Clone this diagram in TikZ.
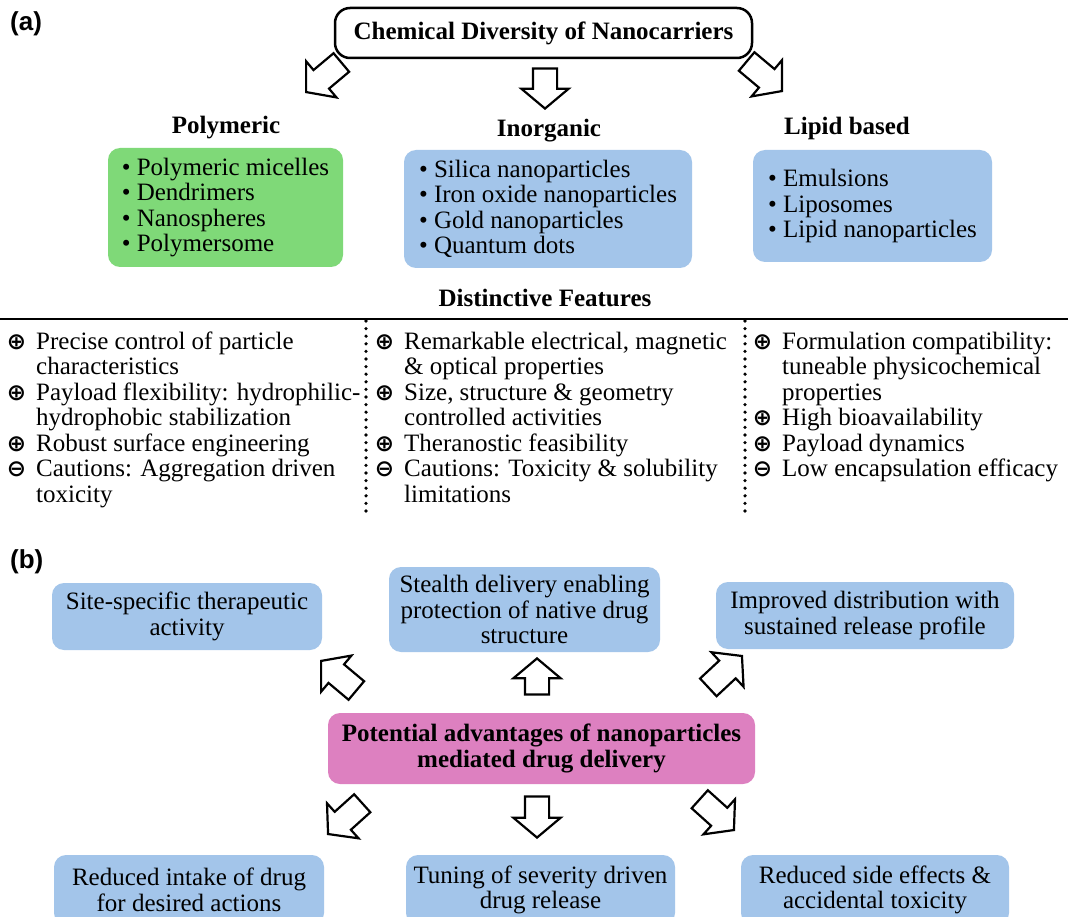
\documentclass[tikz,border=0pt]{standalone}
\usepackage{fontspec}
\setmainfont{Liberation Serif}
\newfontfamily\labelfont{Liberation Sans}
\newfontfamily\symfont{DejaVu Sans}
\usetikzlibrary{shapes.arrows}
\definecolor{boxgreen}{RGB}{127,217,120}
\definecolor{boxblue}{RGB}{163,197,234}
\definecolor{boxpink}{RGB}{221,128,192}
\newcommand\txtsize{\fontsize{25}{25.5}\selectfont}
\newcommand\topstrut{\rule{0pt}{18pt}}
\newcommand\pl{\llap{{\symfont\bfseries\fontsize{23}{23}\selectfont ⊕}\hspace{10pt}}}
\newcommand\mi{\llap{{\symfont\bfseries\fontsize{23}{23}\selectfont ⊖}\hspace{10pt}}}
\begin{document}
\begin{tikzpicture}[x=1pt,y=-1pt,
  blockarr/.style={single arrow, draw, fill=white, line width=2.2pt, line join=miter,
    inner xsep=2pt, inner ysep=11pt, single arrow head extend=11.5pt,
    single arrow tip angle=100, minimum height=40pt, anchor=tip},
  labelf/.style={font=\labelfont\bfseries\fontsize{26}{26}\selectfont, inner sep=0pt},
  titlebox/.style={draw, line width=2.5pt, rounded corners=15pt, fill=white,
    font=\bfseries\txtsize, inner sep=0pt},
  cat/.style={font=\bfseries\txtsize, inner sep=0pt},
  listbox/.style={rounded corners=12pt, align=left, font=\txtsize, inner sep=0pt},
  card/.style={fill=boxblue, rounded corners=12pt, align=center, font=\txtsize, inner sep=0pt},
  feat/.style={align=left, font=\txtsize, inner sep=0pt},
  dotline/.style={line width=3.6pt, line cap=round, dash pattern=on 0pt off 7.6pt}
]
\useasboundingbox (0,0) rectangle (1068,917);
\fill[white] (0,0) rectangle (1068,917);

% ---------- (a) ----------
\node[labelf, anchor=base west] (laba) at (10,31) {(a)};
\node[titlebox, minimum width=417pt, minimum height=50pt] (title) at (543.5,33) {Chemical Diversity of Nanocarriers};

\node[blockarr, rotate=220, minimum height=46pt] (a1) at (305,93) {};
\node[blockarr, rotate=270] (a2) at (545,110) {};
\node[blockarr, rotate=320, minimum height=46pt] (a3) at (783,92) {};

\node[cat, anchor=base] (tpoly) at (226,134) {Polymeric};
\node[cat, anchor=base] (tinorg) at (549,137) {Inorganic};
\node[cat, anchor=base] (tlipid) at (847,135) {Lipid based};

\node[listbox, fill=boxgreen, minimum width=235pt, minimum height=119pt] (poly) at (225.5,207.5)
  {• Polymeric micelles\\• Dendrimers\\• Nanospheres\\• Polymersome};
\node[listbox, fill=boxblue, minimum width=288pt, minimum height=118pt] (inorg) at (548,209)
  {• Silica nanoparticles\\• Iron oxide nanoparticles\\• Gold nanoparticles\\• Quantum dots};
\node[listbox, fill=boxblue, minimum width=239pt, minimum height=112pt] (lipid) at (872.5,206)
  {• Emulsions\\• Liposomes\\• Lipid nanoparticles};

\node[cat, anchor=base] (dfeat) at (545,307) {Distinctive Features};
\draw[line width=2.8pt] (0,319) -- (1068,319);
\draw[dotline] (366,321) -- (366,516);
\draw[dotline] (745,321) -- (745,516);

\node[feat, anchor=north west] (col1) at (36,331)
  {\topstrut\pl Precise control of particle\\characteristics\\
   \pl Payload flexibility: hydrophilic-\\hydrophobic stabilization\\
   \pl Robust surface engineering\\
   \mi Cautions: Aggregation driven\\toxicity};
\node[feat, anchor=north west] (col2) at (404,331)
  {\topstrut\pl Remarkable electrical, magnetic\\\& optical properties\\
   \pl Size, structure \& geometry\\controlled activities\\
   \pl Theranostic feasibility\\
   \mi Cautions: Toxicity \& solubility\\limitations};
\node[feat, anchor=north west] (col3) at (782,331)
  {\topstrut\pl Formulation compatibility:\\tuneable physicochemical\\properties\\
   \pl High bioavailability\\
   \pl Payload dynamics\\
   \mi Low encapsulation efficacy};

% ---------- (b) ----------
\node[labelf, anchor=base west] (labb) at (10,568) {(b)};

\node[card, minimum width=270pt, minimum height=67pt] (site) at (187,616.5)
  {Site-specific therapeutic\\activity};
\node[card, minimum width=271pt, minimum height=85pt] (stealth) at (524.5,609.5)
  {Stealth delivery enabling\\protection of native drug\\structure};
\node[card, minimum width=298pt, minimum height=67pt] (improved) at (865,615.5)
  {Improved distribution with\\sustained release profile};

\node[card, fill=boxpink, font=\bfseries\txtsize, minimum width=427pt, minimum height=71pt] (centre) at (541.5,748.5)
  {Potential advantages of nanoparticles\\mediated drug delivery};

\node[card, minimum width=270pt, minimum height=70pt] (intake) at (189,890)
  {Reduced intake of drug\\for desired actions};
\node[card, minimum width=269pt, minimum height=70pt] (tuning) at (540.5,890)
  {Tuning of severity driven\\drug release};
\node[card, minimum width=268pt, minimum height=70pt] (side) at (875,890)
  {Reduced side effects \&\\accidental toxicity};

\node[blockarr, rotate=140, minimum height=46pt] (b1) at (320,660) {};
\node[blockarr, rotate=90, minimum height=36pt] (b2) at (537,657) {};
\node[blockarr, rotate=43, minimum height=46pt] (b3) at (743,655) {};
\node[blockarr, rotate=222, minimum height=46pt] (b4) at (327,835) {};
\node[blockarr, rotate=270, minimum height=41pt] (b5) at (537,839) {};
\node[blockarr, rotate=318, minimum height=46pt] (b6) at (735,831) {};
\end{tikzpicture}
\end{document}
